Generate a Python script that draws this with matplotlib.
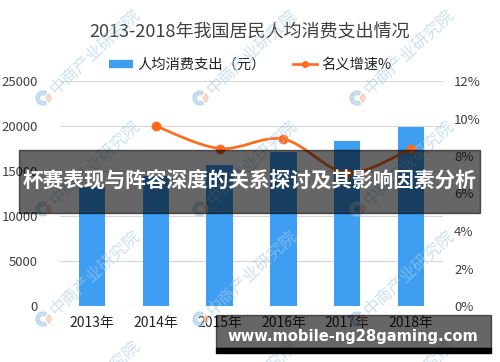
import matplotlib
matplotlib.use('Agg')
import matplotlib.pyplot as plt
from matplotlib.path import Path
from matplotlib.patches import PathPatch, Rectangle, Wedge
from matplotlib.lines import Line2D

plt.rcParams['font.family'] = ['Noto Sans CJK SC', 'DejaVu Sans']

# 数据
years = ['2013年', '2014年', '2015年', '2016年', '2017年', '2018年']
spending = [13220, 14491, 15712, 17111, 18322, 19853]
growth_years = [1, 2, 3, 4, 5]          # 2013年没有增速
growth = [9.6, 8.4, 8.9, 7.1, 8.4]
left_ticks = [0, 5000, 10000, 15000, 20000, 25000]
right_ticks = [0, 2, 4, 6, 8, 10, 12]

blue = '#3d9ef2'
orange = '#ff6a1a'
txt = '#404040'
W, H = 500, 362

fig = plt.figure(figsize=(5, 3.62), dpi=100)
ax = fig.add_axes([60 / W, 1 - 306 / H, 383 / W, 225 / H])
ax2 = ax.twinx()

ax.bar(range(len(years)), spending, width=0.41, color=blue, zorder=2)
ax.set_xlim(-0.5, len(years) - 0.5)
ax.set_ylim(0, 25000)
ax.set_yticks(left_ticks)
ax.set_xticks(range(len(years)))
ax.set_xticklabels(years)
ax.grid(axis='y', color='#d9d9d9', lw=0.9, zorder=0)
ax.set_axisbelow(True)
for s in ax.spines.values():
    s.set_visible(False)
for s in ax2.spines.values():
    s.set_visible(False)
ax.tick_params(axis='y', length=0, pad=16, labelsize=9.5, labelcolor=txt)
ax.tick_params(axis='x', length=0, pad=7, labelsize=10, labelcolor='#222222')

# 平滑曲线 (Catmull-Rom -> Bezier)
ax2.set_ylim(0, 12)
ax2.set_yticks(right_ticks)
ax2.set_yticklabels([f'{t}%' for t in right_ticks])
ax2.tick_params(axis='y', length=0, pad=8, labelsize=9.5, labelcolor=txt)
pts = list(zip(growth_years, growth))
verts = [pts[0]]
codes = [Path.MOVETO]
for i in range(len(pts) - 1):
    p0 = pts[max(i - 1, 0)]
    p1 = pts[i]
    p2 = pts[i + 1]
    p3 = pts[min(i + 2, len(pts) - 1)]
    c1 = (p1[0] + (p2[0] - p0[0]) / 6, p1[1] + (p2[1] - p0[1]) / 6)
    c2 = (p2[0] - (p3[0] - p1[0]) / 6, p2[1] - (p3[1] - p1[1]) / 6)
    verts += [c1, c2, p2]
    codes += [Path.CURVE4] * 3
ax2.add_patch(PathPatch(Path(verts, codes), fill=False, ec=orange, lw=1.9, zorder=3))
ax2.plot(growth_years, growth, 'o', color=orange, ms=6, zorder=4)

fig.text(0.5, 1 - 33 / H, '2013-2018年我国居民人均消费支出情况', ha='center', va='center',
         fontsize=13, color=txt)

handles = [Line2D([], [], color=blue, lw=6, solid_capstyle='butt'),
           Line2D([], [], color=orange, lw=1.9, marker='o', ms=4)]
fig.legend(handles, ['人均消费支出（元）', '名义增速%'], loc='center',
           bbox_to_anchor=(0.5, 1 - 65 / H), ncol=2, frameon=False,
           fontsize=10.3, handlelength=1.7, handletextpad=0.3, columnspacing=1.9,
           labelcolor='#222222')

# 水印
for cx in [95, 252, 409]:
    for cy in [52, 163, 273, 383]:
        fig.text(cx / W, 1 - cy / H, '中商产业研究院', rotation=43, ha='center', va='center',
                 fontsize=12, color='#a8cbe8', alpha=0.6, zorder=20)
        lx, ly = (cx - 52) / W, 1 - (cy + 46) / H
        fig.patches.append(Wedge((lx * W, (ly) * H), 7, 60, 300, width=3.5,
                                 transform=None, color='#a8cbe8', alpha=0.6, zorder=20))
        fig.patches.append(Wedge((lx * W + 3, (ly) * H), 5, -60, 60, width=5,
                                 transform=None, color='#f4c2a8', alpha=0.6, zorder=20))

# 遮挡横幅
fig.patches.append(Rectangle((19 / W, 1 - 212.7 / H), 461 / W, 62.7 / H,
                             transform=fig.transFigure, color='black', alpha=0.6, zorder=30))
fig.text(249.5 / W, 1 - 181 / H, '杯赛表现与阵容深度的关系探讨及其影响因素分析', ha='center',
         va='center', fontsize=14.9, fontweight='bold', color='white', zorder=31)

fig.patches.append(Rectangle((216 / W, 1 - 348 / H), 275 / W, 33 / H,
                             transform=fig.transFigure, color='black', alpha=0.6, zorder=30))
fig.patches.append(Rectangle((216 / W, 1 - 353 / H), 275 / W, 5 / H,
                             transform=fig.transFigure, color='black', zorder=30))
fig.text(352.5 / W, 1 - 336.5 / H, 'www.mobile-ng28gaming.com', ha='center', va='center',
         fontsize=10.6, fontweight='bold', color='white', family='DejaVu Sans', zorder=31)

fig.savefig('out.png', dpi=100)
